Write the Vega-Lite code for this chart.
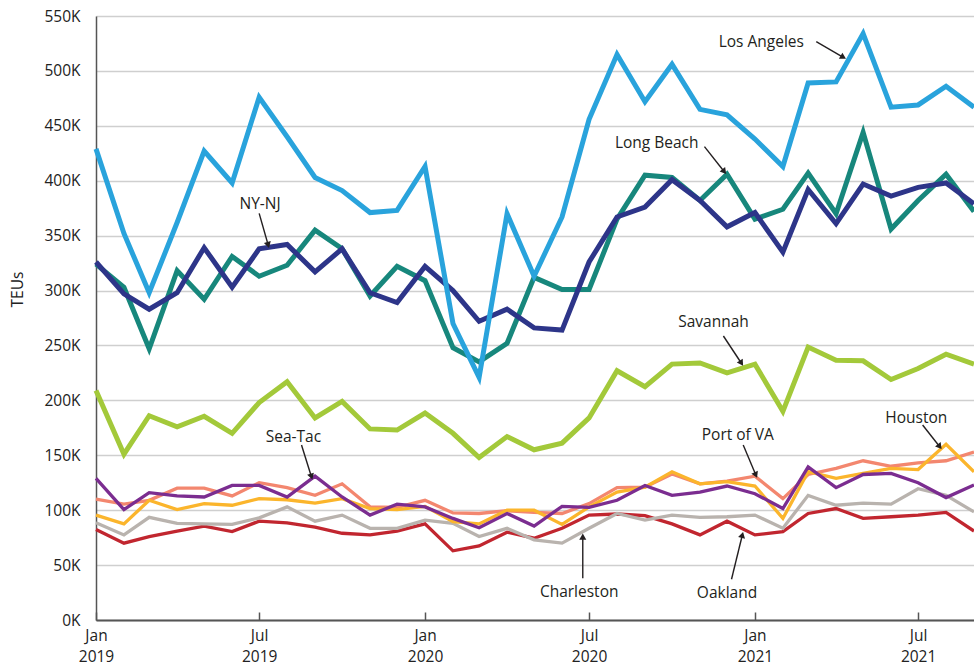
{
  "$schema": "https://vega.github.io/schema/vega-lite/v6.json",
  "width": 878,
  "height": 604,
  "autosize": {"type": "none"},
  "padding": {"left": 96, "top": 16, "right": 0, "bottom": 52},
  "background": "white",
  "config": {"font": "Open Sans", "view": {"stroke": null}},
  "datasets": {
    "teu": [
      {"date": "2019-01-01", "Los Angeles": 429, "Long Beach": 324, "NY-NJ": 326, "Savannah": 209, "Sea-Tac": 129, "Port of VA": 110, "Houston": 95.5, "Charleston": 88.5, "Oakland": 82.5},
      {"date": "2019-02-01", "Los Angeles": 352, "Long Beach": 303, "NY-NJ": 297, "Savannah": 151, "Sea-Tac": 100.5, "Port of VA": 105.5, "Houston": 87.5, "Charleston": 77.5, "Oakland": 70},
      {"date": "2019-03-01", "Los Angeles": 298, "Long Beach": 247, "NY-NJ": 283, "Savannah": 186, "Sea-Tac": 116, "Port of VA": 109, "Houston": 109, "Charleston": 93.5, "Oakland": 76},
      {"date": "2019-04-01", "Los Angeles": 362, "Long Beach": 318, "NY-NJ": 298, "Savannah": 176, "Sea-Tac": 113, "Port of VA": 120, "Houston": 100.5, "Charleston": 88, "Oakland": 81},
      {"date": "2019-05-01", "Los Angeles": 427, "Long Beach": 292, "NY-NJ": 339, "Savannah": 185.5, "Sea-Tac": 112, "Port of VA": 120, "Houston": 106, "Charleston": 87.5, "Oakland": 85.5},
      {"date": "2019-06-01", "Los Angeles": 398, "Long Beach": 331, "NY-NJ": 303, "Savannah": 170, "Sea-Tac": 122.5, "Port of VA": 113, "Houston": 104.5, "Charleston": 87, "Oakland": 80.5},
      {"date": "2019-07-01", "Los Angeles": 476, "Long Beach": 313, "NY-NJ": 338, "Savannah": 198, "Sea-Tac": 122.5, "Port of VA": 125, "Houston": 110.5, "Charleston": 93, "Oakland": 90},
      {"date": "2019-08-01", "Los Angeles": 440, "Long Beach": 323, "NY-NJ": 342, "Savannah": 217, "Sea-Tac": 112, "Port of VA": 120.5, "Houston": 109.5, "Charleston": 103, "Oakland": 88.5},
      {"date": "2019-09-01", "Los Angeles": 403, "Long Beach": 355, "NY-NJ": 317, "Savannah": 184, "Sea-Tac": 131, "Port of VA": 113.5, "Houston": 106.5, "Charleston": 90, "Oakland": 84.5},
      {"date": "2019-10-01", "Los Angeles": 391, "Long Beach": 338, "NY-NJ": 338, "Savannah": 199, "Sea-Tac": 112, "Port of VA": 124, "Houston": 110.5, "Charleston": 95.5, "Oakland": 79},
      {"date": "2019-11-01", "Los Angeles": 371, "Long Beach": 295, "NY-NJ": 298, "Savannah": 174, "Sea-Tac": 95.5, "Port of VA": 103, "Houston": 101.5, "Charleston": 83.5, "Oakland": 77.5},
      {"date": "2019-12-01", "Los Angeles": 373, "Long Beach": 322, "NY-NJ": 289, "Savannah": 173, "Sea-Tac": 105.5, "Port of VA": 102.5, "Houston": 100.5, "Charleston": 83.5, "Oakland": 81},
      {"date": "2020-01-01", "Los Angeles": 413, "Long Beach": 309, "NY-NJ": 322, "Savannah": 188.5, "Sea-Tac": 103, "Port of VA": 109, "Houston": 103.5, "Charleston": 91, "Oakland": 87.5},
      {"date": "2020-02-01", "Los Angeles": 270, "Long Beach": 248, "NY-NJ": 300, "Savannah": 170, "Sea-Tac": 92.5, "Port of VA": 97.5, "Houston": 89.5, "Charleston": 88, "Oakland": 63},
      {"date": "2020-03-01", "Los Angeles": 221, "Long Beach": 235, "NY-NJ": 272, "Savannah": 148, "Sea-Tac": 84, "Port of VA": 97, "Houston": 87.5, "Charleston": 76, "Oakland": 67.5},
      {"date": "2020-04-01", "Los Angeles": 370, "Long Beach": 252, "NY-NJ": 283, "Savannah": 167, "Sea-Tac": 97, "Port of VA": 99.5, "Houston": 100, "Charleston": 83.5, "Oakland": 80},
      {"date": "2020-05-01", "Los Angeles": 313, "Long Beach": 312, "NY-NJ": 266, "Savannah": 155, "Sea-Tac": 85.5, "Port of VA": 98, "Houston": 100, "Charleston": 73, "Oakland": 74.5},
      {"date": "2020-06-01", "Los Angeles": 367, "Long Beach": 301, "NY-NJ": 264, "Savannah": 161, "Sea-Tac": 103.5, "Port of VA": 97, "Houston": 87, "Charleston": 70, "Oakland": 83.5},
      {"date": "2020-07-01", "Los Angeles": 456, "Long Beach": 301, "NY-NJ": 326, "Savannah": 184, "Sea-Tac": 102.5, "Port of VA": 106, "Houston": 103, "Charleston": 83.5, "Oakland": 95.5},
      {"date": "2020-08-01", "Los Angeles": 515, "Long Beach": 365, "NY-NJ": 367, "Savannah": 227, "Sea-Tac": 109, "Port of VA": 120.5, "Houston": 116.5, "Charleston": 97, "Oakland": 96.5},
      {"date": "2020-09-01", "Los Angeles": 472, "Long Beach": 405, "NY-NJ": 376, "Savannah": 212.5, "Sea-Tac": 122.5, "Port of VA": 121, "Houston": 121, "Charleston": 91, "Oakland": 95},
      {"date": "2020-10-01", "Los Angeles": 506, "Long Beach": 403, "NY-NJ": 401, "Savannah": 233, "Sea-Tac": 113.5, "Port of VA": 133, "Houston": 135, "Charleston": 95.5, "Oakland": 87.5},
      {"date": "2020-11-01", "Los Angeles": 465, "Long Beach": 382, "NY-NJ": 382, "Savannah": 234, "Sea-Tac": 116.5, "Port of VA": 124, "Houston": 124, "Charleston": 93.5, "Oakland": 77.5},
      {"date": "2020-12-01", "Los Angeles": 460, "Long Beach": 406, "NY-NJ": 358, "Savannah": 225, "Sea-Tac": 122, "Port of VA": 126.5, "Houston": 126, "Charleston": 94, "Oakland": 90},
      {"date": "2021-01-01", "Los Angeles": 438, "Long Beach": 365, "NY-NJ": 371, "Savannah": 233, "Sea-Tac": 115, "Port of VA": 131, "Houston": 122, "Charleston": 95.5, "Oakland": 77.5},
      {"date": "2021-02-01", "Los Angeles": 413, "Long Beach": 374, "NY-NJ": 335, "Savannah": 190, "Sea-Tac": 101.5, "Port of VA": 110.5, "Houston": 92.5, "Charleston": 83.5, "Oakland": 80.5},
      {"date": "2021-03-01", "Los Angeles": 489, "Long Beach": 407, "NY-NJ": 392, "Savannah": 248.5, "Sea-Tac": 139.5, "Port of VA": 132.5, "Houston": 135, "Charleston": 113.5, "Oakland": 97},
      {"date": "2021-04-01", "Los Angeles": 490, "Long Beach": 370, "NY-NJ": 361, "Savannah": 236.5, "Sea-Tac": 120.5, "Port of VA": 138, "Houston": 129, "Charleston": 104.5, "Oakland": 101.5},
      {"date": "2021-05-01", "Los Angeles": 534, "Long Beach": 444, "NY-NJ": 397, "Savannah": 236, "Sea-Tac": 132.5, "Port of VA": 145, "Houston": 133.5, "Charleston": 106.5, "Oakland": 92.5},
      {"date": "2021-06-01", "Los Angeles": 467, "Long Beach": 356, "NY-NJ": 386, "Savannah": 219, "Sea-Tac": 133.5, "Port of VA": 140, "Houston": 138, "Charleston": 105.5, "Oakland": 94},
      {"date": "2021-07-01", "Los Angeles": 469, "Long Beach": 382, "NY-NJ": 394, "Savannah": 229, "Sea-Tac": 125, "Port of VA": 143, "Houston": 137, "Charleston": 119.5, "Oakland": 95.5},
      {"date": "2021-08-01", "Los Angeles": 486, "Long Beach": 406, "NY-NJ": 398, "Savannah": 242, "Sea-Tac": 111.5, "Port of VA": 145, "Houston": 160, "Charleston": 113.5, "Oakland": 98},
      {"date": "2021-09-01", "Los Angeles": 467, "Long Beach": 372, "NY-NJ": 379, "Savannah": 233, "Sea-Tac": 123, "Port of VA": 153, "Houston": 135, "Charleston": 98.5, "Oakland": 81}
    ],
    "notes": [
      {"label": "Los Angeles", "date": "2021-01-08", "value": 526.6},
      {"label": "Long Beach", "date": "2020-09-14", "value": 434.6},
      {"label": "NY-NJ", "date": "2019-07-02", "value": 378.8},
      {"label": "Savannah", "date": "2020-11-16", "value": 271.6},
      {"label": "Sea-Tac", "date": "2019-08-08", "value": 166.9},
      {"label": "Port of VA", "date": "2020-12-13", "value": 168.5},
      {"label": "Houston", "date": "2021-06-29", "value": 183.7},
      {"label": "Charleston", "date": "2020-06-20", "value": 25.8},
      {"label": "Oakland", "date": "2020-12-01", "value": 24.3}
    ],
    "arrows": [
      {"id": 1, "date": "2021-03-10", "value": 526.6, "date2": "2021-04-09", "value2": 512.4},
      {"id": 2, "date": "2020-11-06", "value": 431, "date2": "2020-11-28", "value2": 408.2},
      {"id": 3, "date": "2019-07-01", "value": 370.3, "date2": "2019-07-11", "value2": 341.5},
      {"id": 4, "date": "2020-11-27", "value": 258.6, "date2": "2020-12-17", "value2": 233.8},
      {"id": 5, "date": "2019-08-17", "value": 159.4, "date2": "2019-08-28", "value2": 130.5},
      {"id": 6, "date": "2020-12-19", "value": 159.4, "date2": "2021-01-02", "value2": 132},
      {"id": 7, "date": "2021-07-06", "value": 177.6, "date2": "2021-07-25", "value2": 157.8},
      {"id": 8, "date": "2020-06-24", "value": 38, "date2": "2020-06-24", "value2": 75.9},
      {"id": 9, "date": "2020-12-06", "value": 37.1, "date2": "2020-12-18", "value2": 77.4}
    ]
  },
  "encoding": {
    "x": {
      "field": "date",
      "type": "temporal",
      "scale": {
        "type": "utc",
        "domain": [
          {"year": 2019, "month": 1, "date": 1, "utc": true},
          {"year": 2021, "month": 9, "date": 1, "utc": true}
        ]
      },
      "axis": {
        "title": null,
        "values": [
          {"year": 2019, "month": 1, "date": 1, "utc": true},
          {"year": 2019, "month": 7, "date": 1, "utc": true},
          {"year": 2020, "month": 1, "date": 1, "utc": true},
          {"year": 2020, "month": 7, "date": 1, "utc": true},
          {"year": 2021, "month": 1, "date": 1, "utc": true},
          {"year": 2021, "month": 7, "date": 1, "utc": true}
        ],
        "labelExpr": "[utcFormat(datum.value, '%b'), utcFormat(datum.value, '%Y')]",
        "labelFontSize": 15.5,
        "labelColor": "#222222",
        "labelLineHeight": 21,
        "labelPadding": 16,
        "labelAlign": "center",
        "labelFlush": false,
        "labelOverlap": false,
        "grid": false,
        "ticks": true,
        "tickSize": -8,
        "tickColor": "#555555",
        "tickWidth": 1.5,
        "domainColor": "#555555",
        "domainWidth": 2
      }
    },
    "y": {
      "field": "teu",
      "type": "quantitative",
      "scale": {"domain": [0, 550], "nice": false},
      "axis": {
        "title": "TEUs",
        "titleFontSize": 15.5,
        "titleFontWeight": "normal",
        "titleColor": "#222222",
        "titlePadding": 18,
        "titleY": 273,
        "values": [0, 50, 100, 150, 200, 250, 300, 350, 400, 450, 500, 550],
        "labelExpr": "datum.value + 'K'",
        "labelFontSize": 15.5,
        "labelColor": "#222222",
        "labelPadding": 16,
        "ticks": false,
        "grid": true,
        "gridColor": "#cfcfcf",
        "gridWidth": 1.5,
        "domainColor": "#555555",
        "domainWidth": 1.5
      }
    }
  },
  "layer": [
    {
      "data": {"name": "teu"},
      "transform": [
        {"fold": ["Oakland", "Charleston", "Port of VA", "Houston", "Sea-Tac"], "as": ["port", "teu"]}
      ],
      "mark": {"type": "line", "strokeWidth": 3.3},
      "encoding": {
        "color": {
          "field": "port",
          "type": "nominal",
          "scale": {
            "domain": ["Oakland", "Charleston", "Port of VA", "Houston", "Sea-Tac", "Savannah", "Long Beach", "NY-NJ", "Los Angeles"],
            "range": ["#c1262f", "#b9b3ae", "#f3876f", "#fbb52c", "#7b2d90", "#a3c93a", "#17877c", "#2d3589", "#29a3dc"]
          },
          "legend": null
        }
      }
    },
    {
      "data": {"name": "teu"},
      "transform": [
        {"fold": ["Savannah", "Long Beach", "NY-NJ", "Los Angeles"], "as": ["port", "teu"]}
      ],
      "mark": {"type": "line", "strokeWidth": 5},
      "encoding": {
        "color": {
          "field": "port",
          "type": "nominal",
          "scale": {
            "domain": ["Oakland", "Charleston", "Port of VA", "Houston", "Sea-Tac", "Savannah", "Long Beach", "NY-NJ", "Los Angeles"],
            "range": ["#c1262f", "#b9b3ae", "#f3876f", "#fbb52c", "#7b2d90", "#a3c93a", "#17877c", "#2d3589", "#29a3dc"]
          },
          "legend": null
        }
      }
    },
    {
      "data": {"name": "notes"},
      "mark": {"type": "text", "fontSize": 15.5, "color": "#231f20", "align": "center", "baseline": "middle"},
      "encoding": {
        "y": {"field": "value", "type": "quantitative"},
        "text": {"field": "label", "type": "nominal"}
      }
    },
    {
      "data": {"name": "arrows"},
      "mark": {"type": "rule", "color": "#231f20", "strokeWidth": 1.4},
      "encoding": {
        "y": {"field": "value", "type": "quantitative"},
        "x2": {"field": "date2"},
        "y2": {"field": "value2"}
      }
    },
    {
      "data": {"name": "arrows"},
      "mark": {"type": "point", "shape": "triangle-up", "filled": true, "size": 50, "color": "#231f20", "opacity": 1},
      "encoding": {
        "x": {"field": "date2", "type": "temporal"},
        "y": {"field": "value2", "type": "quantitative"},
        "angle": {
          "field": "id",
          "type": "quantitative",
          "scale": {"type": "threshold", "domain": [1.5, 2.5, 3.5, 4.5, 5.5, 6.5, 7.5, 8.5], "range": [120, 141, 164, 147, 162, 156, 142, 0, 14]},
          "legend": null
        }
      }
    }
  ]
}
